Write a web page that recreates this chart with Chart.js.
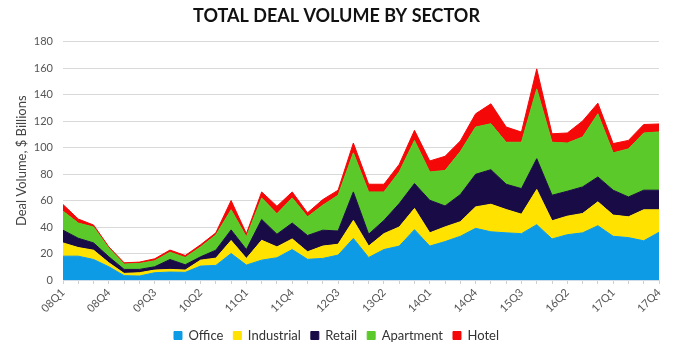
<!DOCTYPE html>
<html>
<head>
<meta charset="utf-8">
<script src="https://cdn.jsdelivr.net/npm/chart.js@4.4.1/dist/chart.umd.min.js"></script>
<style>
  html, body { margin: 0; padding: 0; background: #ffffff; }
  #wrap { width: 680px; height: 356px; position: relative; }
</style>
</head>
<body>
<div id="wrap"><canvas id="c" width="680" height="356"></canvas></div>
<script>
const quarters = [
  '08Q1','08Q2','08Q3','08Q4','09Q1','09Q2','09Q3','09Q4',
  '10Q1','10Q2','10Q3','10Q4','11Q1','11Q2','11Q3','11Q4',
  '12Q1','12Q2','12Q3','12Q4','13Q1','13Q2','13Q3','13Q4',
  '14Q1','14Q2','14Q3','14Q4','15Q1','15Q2','15Q3','15Q4',
  '16Q1','16Q2','16Q3','16Q4','17Q1','17Q2','17Q3','17Q4'
];
const office = [18, 18, 15.5, 10, 3.3, 3, 5.5, 6, 5.8, 10.5, 11, 20, 11.3, 15, 16.8, 23,
  15.6, 16.3, 18.8, 31.4, 17, 23, 25.6, 38, 25.6, 29, 33, 39, 36.4, 35.6, 35, 41.8,
  31, 34.2, 35.6, 41, 33, 32, 29.6, 36];
const industrial = [10, 6.5, 7, 3, 1.7, 2.5, 2, 2, 1.7, 4.5, 5.5, 9.8, 5, 15, 8.2, 8,
  5.7, 9.3, 8.2, 13.6, 8.6, 12, 14.4, 16, 10, 11.1, 11, 16.2, 20.8, 17.6, 14.7, 26.5,
  13.7, 14, 14.6, 18, 16, 15.7, 23.4, 17];
const retail = [9.6, 7, 5.5, 4.5, 3, 2.5, 2.5, 7.5, 4, 2.5, 6, 8, 6.7, 15.7, 9.6, 12,
  12.3, 12, 10, 21.5, 9, 10, 17.7, 18.8, 24.6, 15.8, 20.5, 24.6, 26.1, 19.1, 19.3, 23.3,
  19.3, 18.8, 20.1, 18.8, 18.8, 15, 14.8, 14.8];
const apartment = [14.4, 11.5, 12, 6.5, 4, 4.5, 4.5, 5.5, 5.5, 7.5, 11.5, 15.2, 9.6, 16.3, 15.4, 19,
  14.1, 18.9, 27, 29.5, 31.9, 21.5, 23.9, 32.6, 21.4, 26.8, 32.5, 35.7, 34.7, 31.7, 35, 52.7,
  40, 36.4, 37.7, 47.7, 28.2, 36.3, 43.2, 44];
const hotel = [5, 3, 1.5, 1, 1, 1, 1.5, 1.6, 1.5, 1.6, 1.6, 7, 2.4, 4.5, 5.7, 4.5,
  3, 4.2, 3.8, 7.4, 5.8, 5.8, 5.7, 7.6, 8.3, 10.7, 8, 10, 15, 11.5, 7.7, 15.1,
  6.4, 7.6, 12, 8, 7, 6.4, 6.4, 6];

const seriesNames = ['Office', 'Industrial', 'Retail', 'Apartment', 'Hotel'];
const seriesData = [office, industrial, retail, apartment, hotel];
const seriesColors = ['#0d9be6', '#ffe200', '#190b45', '#5cc92a', '#f50808'];

const datasets = seriesNames.map((name, i) => ({
  label: name,
  data: seriesData[i],
  backgroundColor: seriesColors[i],
  borderColor: seriesColors[i],
  borderWidth: 1,
  pointRadius: 0,
  pointHoverRadius: 0,
  tension: 0,
  fill: i === 0 ? 'origin' : '-1'
}));

new Chart(document.getElementById('c'), {
  type: 'line',
  data: { labels: quarters, datasets },
  options: {
    responsive: false,
    animation: false,
    devicePixelRatio: 1,
    layout: { padding: { left: 14, right: 21, top: 0, bottom: 4 } },
    plugins: {
      title: {
        display: true,
        text: 'TOTAL DEAL VOLUME BY SECTOR',
        color: '#111111',
        font: { family: 'Lato', size: 18, weight: 'bold' },
        padding: { top: 5, bottom: 15 }
      },
      legend: {
        position: 'bottom',
        labels: {
          boxWidth: 8, boxHeight: 8,
          color: '#333333',
          font: { family: 'Lato', size: 13 },
          padding: 10
        }
      },
      tooltip: { enabled: false }
    },
    scales: {
      x: {
        grid: { drawOnChartArea: false, drawTicks: true, tickLength: 4, color: '#d0d0d0' },
        border: { display: true, color: '#cfdbe6' },
        ticks: {
          autoSkip: false,
          maxRotation: 45, minRotation: 45,
          color: '#555555',
          font: { family: 'Lato', size: 11 },
          padding: 2,
          callback: function(v, i) { return i % 3 === 0 ? quarters[i] : ''; }
        },
        afterFit: function(s) { s.height = 39; }
      },
      y: {
        stacked: true,
        min: 0, max: 180,
        ticks: { stepSize: 20, color: '#555555', font: { family: 'Lato', size: 11 }, padding: 10 },
        grid: { color: '#d9d9d9', drawTicks: false },
        border: { display: false },
        title: {
          display: true,
          text: 'Deal Volume, $ Billions',
          color: '#444444',
          font: { family: 'Lato', size: 13 },
          padding: { top: 0, bottom: 4 }
        },
        afterFit: function(s) { s.width = 49; }
      }
    }
  }
});
</script>
</body>
</html>
